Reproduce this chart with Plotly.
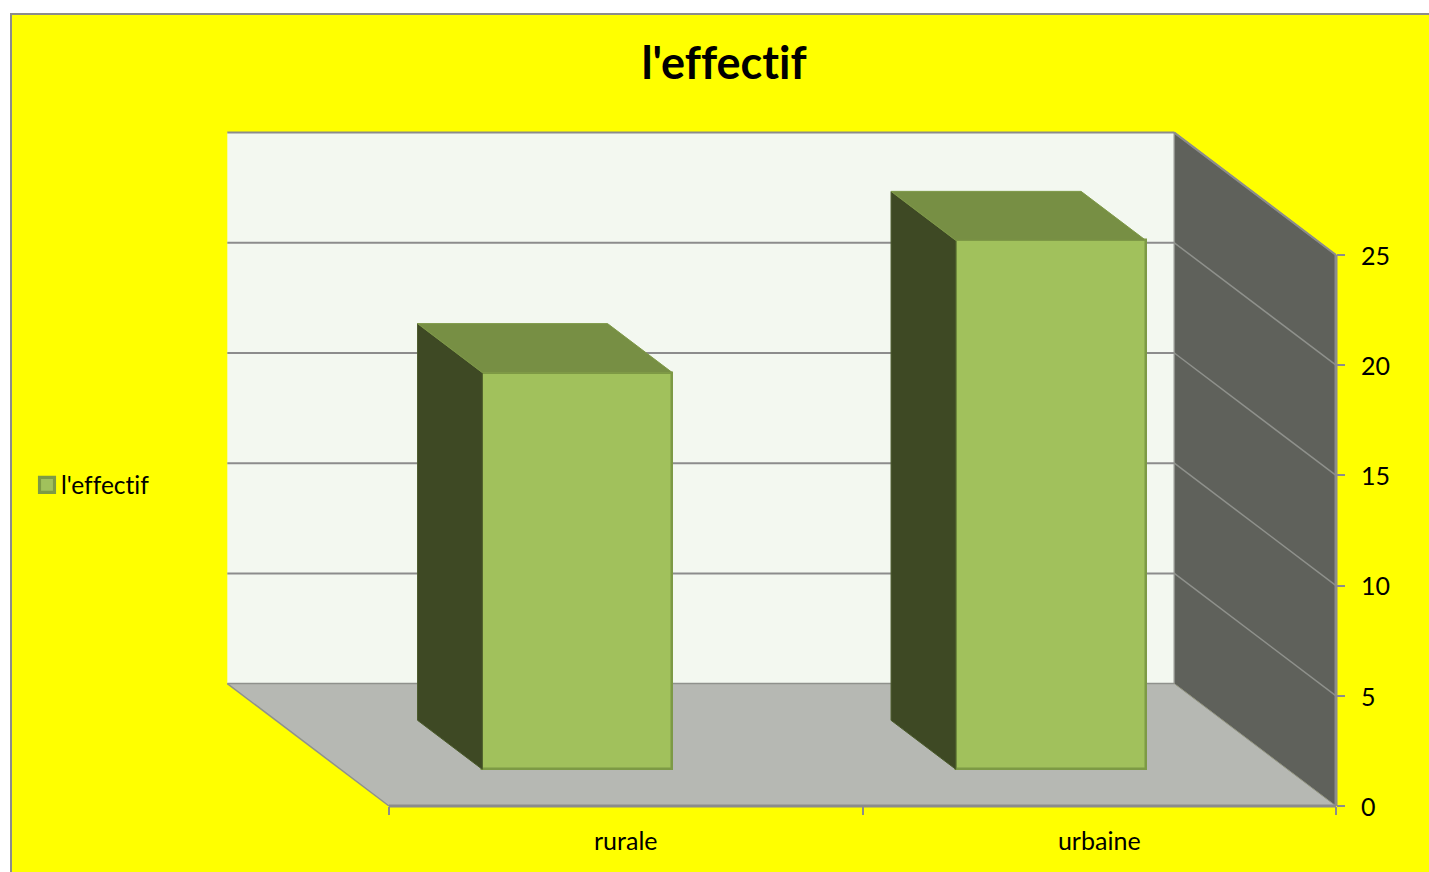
import plotly.graph_objects as go

categories = ["rurale", "urbaine"]
values = [18, 24]
series_name = "l'effectif"
y_ticks = [0, 5, 10, 15, 20, 25]

W, H = 1429, 872
FONT = "Lato"
X0, X1 = 389, 1336      # pixels of x=0 and x=2
Y0, Y25 = 806, 255      # pixels of y=0 and y=25
ux = (X1 - X0) / 2
uy = (Y0 - Y25) / 25
DX = 161.7 / ux         # oblique depth offset, axis units
DY = 122.4 / uy
BAR_W = 190 / ux
D_FRONT, D_BACK = 0.30, 0.70
x_pos = [i + 0.5 for i in range(len(categories))]


def prx(x, d):
    return x - d * DX


def pry(v, d):
    return v + d * DY


def poly(points, fill, line, width=0, layer="below"):
    path = "M" + "L".join(f"{x},{y}" for x, y in points) + "Z"
    return dict(type="path", path=path, xref="x", yref="y", fillcolor=fill,
                line=dict(color=line, width=width), layer=layer)


def seg(a, b, color="#8C8C8C", width=2):
    return dict(type="line", xref="x", yref="y", x0=a[0], y0=a[1], x1=b[0], y1=b[1],
                line=dict(color=color, width=width), layer="below")


P = lambda x, v, d: (prx(x, d), pry(v, d))
top = y_ticks[-1]
shapes = [
    dict(type="rect", xref="paper", yref="paper", x0=11 / W, x1=1.01, y0=-0.01, y1=1 - 14 / H,
         fillcolor="#FFFF00", line=dict(color="#8C8C8C", width=2), layer="below"),
    poly([P(0, 0, 1), P(2, 0, 1), P(2, top, 1), P(0, top, 1)], "#F3F8F0", "#F3F8F0"),
    poly([P(0, 0, 0), P(2, 0, 0), P(2, 0, 1), P(0, 0, 1)], "#B6B8B3", "#B6B8B3"),
    poly([P(2, 0, 0), P(2, top, 0), P(2, top, 1), P(2, 0, 1)], "#5F615B", "#5F615B"),
]
for t in y_ticks[1:]:
    shapes.append(seg(P(0, t, 1), P(2, t, 1)))
    shapes.append(seg(P(2, t, 1), P(2, t, 0), "#8F918C", 1.5))
shapes += [
    seg(P(0, 0, 1), P(2, 0, 1), "#8F918C", 1.5),
    seg(P(0, 0, 1), P(0, 0, 0), "#8F918C", 1.5),
    seg(P(2, 0, 1), P(2, 0, 0), "#8F918C", 1),
    seg(P(2, 0, 1), P(2, top, 1), "#8F918C", 1.5),
    seg(P(2, top, 1), P(2, top, 0), "#8C8C8C", 2),
    seg(P(0, 0, 0), P(2, 0, 0), "#8C8C8C", 3),
    seg(P(2, 0, 0), P(2, top, 0), "#8C8C8C", 3),
]

fig = go.Figure()
# Front faces: real bars, shifted by the depth projection
fig.add_trace(go.Bar(
    x=[prx(x, D_FRONT) for x in x_pos], y=values, base=pry(0, D_FRONT), width=BAR_W,
    name=series_name, showlegend=True,
    marker=dict(color="#A1C15C", line=dict(color="#7D9A45", width=2.5)),
    hoverinfo="skip",
))
# Side and top faces
for x, v in zip(x_pos, values):
    l, r = x - BAR_W / 2, x + BAR_W / 2
    side = [P(l, 0, D_FRONT), P(l, v, D_FRONT), P(l, v, D_BACK), P(l, 0, D_BACK), P(l, 0, D_FRONT)]
    roof = [P(l, v, D_FRONT), P(r, v, D_FRONT), P(r, v, D_BACK), P(l, v, D_BACK), P(l, v, D_FRONT)]
    for pts, fill, edge in ((side, "#3E4924", "#4A5A2A"), (roof, "#778F44", "#7F9A48")):
        fig.add_trace(go.Scatter(
            x=[p[0] for p in pts], y=[p[1] for p in pts], mode="lines", fill="toself",
            fillcolor=fill, line=dict(color=edge, width=1), showlegend=False, hoverinfo="skip",
        ))

fig.update_layout(
    width=W, height=H, margin=dict(l=0, r=0, t=0, b=0),
    paper_bgcolor="#FFFFFF", plot_bgcolor="rgba(0,0,0,0)",
    font=dict(family=FONT, color="#000000", size=24),
    shapes=shapes, showlegend=True, bargap=0,
    title=dict(text="<b>" + series_name + "</b>", x=724 / W, xanchor="center",
               y=1 - 63 / H, yanchor="middle", font=dict(family=FONT, size=45, color="#000000")),
    legend=dict(x=21 / W, xanchor="left", y=1 - 485 / H, yanchor="middle", bgcolor="rgba(0,0,0,0)",
                font=dict(family=FONT, size=24.5, color="#000000")),
    xaxis=dict(
        range=[-X0 / ux, (W - X0) / ux], domain=[0, 1], anchor="free", position=(H - Y0) / H,
        tickmode="array", tickvals=x_pos, ticktext=categories, ticks="", ticklabelstandoff=18,
        showgrid=False, zeroline=False, showline=False,
        tickfont=dict(family=FONT, size=25),
        minor=dict(tickmode="array", tickvals=[0, 1, 2], ticks="outside", ticklen=8, tickwidth=2,
                   tickcolor="#8C8C8C", showgrid=False),
    ),
    yaxis=dict(
        range=[-(H - Y0) / uy, Y0 / uy], domain=[0, 1], anchor="free", position=X1 / W, side="right",
        tickmode="array", tickvals=y_ticks, ticks="outside", ticklen=8, tickwidth=2,
        tickcolor="#8C8C8C", ticklabelstandoff=11, showgrid=False, zeroline=False, showline=False,
        tickfont=dict(family=FONT, size=25),
    ),
)

post = """
document.body.style.margin='0';document.body.style.overflow='hidden';
var st=document.createElement('style');
st.textContent='text{font-variant-ligatures:none !important;font-feature-settings:"liga" 0,"clig" 0,"dlig" 0 !important;letter-spacing:0.01px !important;}';
document.head.appendChild(st);
document.querySelectorAll('.legend .legendpoints path').forEach(function(p){
  p.setAttribute('transform','translate(26,0) scale(1.25)');});
document.querySelectorAll('.ytick text').forEach(function(t){t.setAttribute('dy','1');});
"""
fig.write_html("out.html", config={"displayModeBar": False}, post_script=post)
